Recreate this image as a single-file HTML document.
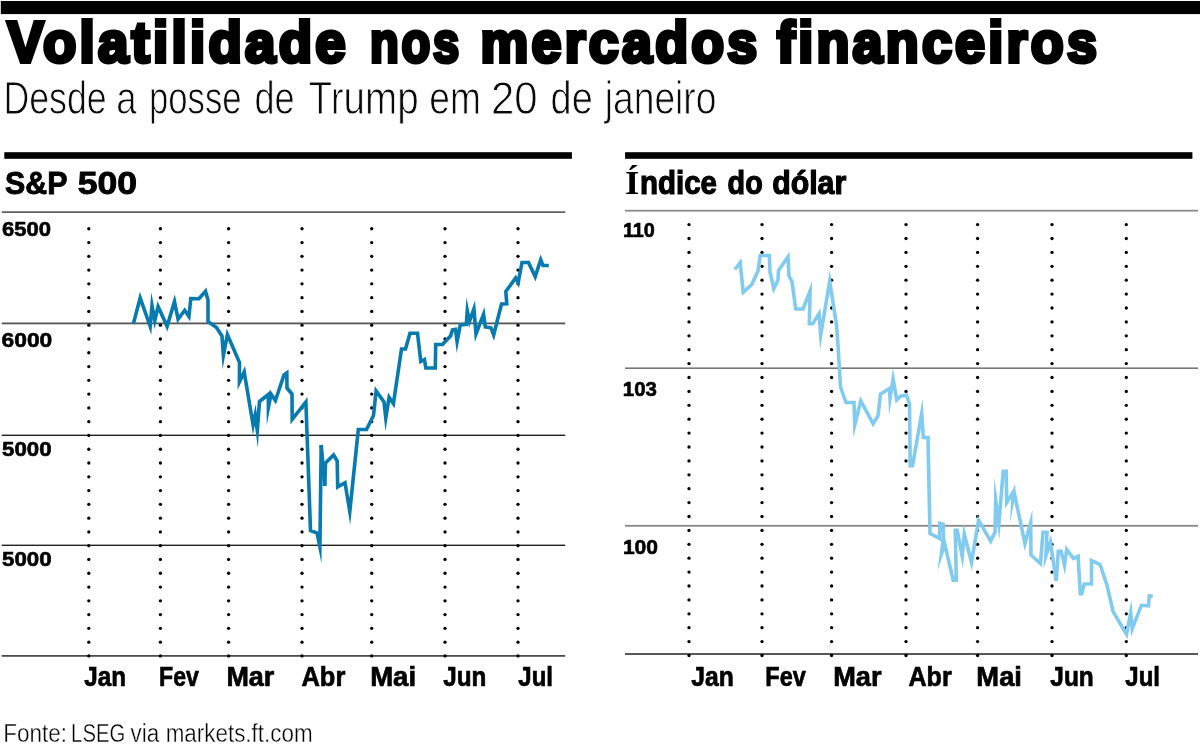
<!DOCTYPE html>
<html lang="pt"><head><meta charset="utf-8"><title>Volatilidade nos mercados financeiros</title>
<style>
html,body{margin:0;padding:0;background:#fff;}
body{width:1200px;height:751px;overflow:hidden;font-family:"Liberation Sans",sans-serif;}
svg{display:block;font-family:"Liberation Sans",sans-serif;will-change:transform;}
</style></head><body>
<svg width="1200" height="751" viewBox="0 0 1200 751">
<rect width="1200" height="751" fill="#fff"/>
<g>
<rect x="0.8" y="1" width="1199.2" height="13.1" fill="#000"/>
<rect x="4.3" y="152.2" width="567.6" height="6.6" fill="#000"/>
<rect x="625.1" y="152.2" width="567.3" height="6.6" fill="#000"/>
<rect x="1.7" y="211.40" width="563.5" height="1.4" fill="#3a3a3a"/>
<rect x="1.7" y="322.50" width="563.5" height="1.8" fill="#555"/>
<rect x="1.7" y="434.60" width="563.5" height="1.4" fill="#222"/>
<rect x="1.7" y="544.60" width="563.5" height="1.4" fill="#222"/>
<rect x="1.7" y="655.05" width="563.5" height="1.7" fill="#444"/>
<rect x="625" y="209.85" width="573" height="1.7" fill="#888"/>
<rect x="625" y="367.40" width="573" height="1.6" fill="#777"/>
<rect x="625" y="524.90" width="573" height="1.8" fill="#888"/>
<rect x="625" y="653.25" width="573" height="1.5" fill="#222"/>
<g fill="#000"><circle cx="88.8" cy="228.75" r="1.65"/><circle cx="88.8" cy="242.53" r="1.65"/><circle cx="88.8" cy="256.31" r="1.65"/><circle cx="88.8" cy="270.09" r="1.65"/><circle cx="88.8" cy="283.87" r="1.65"/><circle cx="88.8" cy="297.65" r="1.65"/><circle cx="88.8" cy="311.43" r="1.65"/><circle cx="88.8" cy="325.21" r="1.65"/><circle cx="88.8" cy="338.99" r="1.65"/><circle cx="88.8" cy="352.77" r="1.65"/><circle cx="88.8" cy="366.55" r="1.65"/><circle cx="88.8" cy="380.33" r="1.65"/><circle cx="88.8" cy="394.11" r="1.65"/><circle cx="88.8" cy="407.89" r="1.65"/><circle cx="88.8" cy="421.67" r="1.65"/><circle cx="88.8" cy="435.45" r="1.65"/><circle cx="88.8" cy="449.23" r="1.65"/><circle cx="88.8" cy="463.01" r="1.65"/><circle cx="88.8" cy="476.79" r="1.65"/><circle cx="88.8" cy="490.57" r="1.65"/><circle cx="88.8" cy="504.35" r="1.65"/><circle cx="88.8" cy="518.13" r="1.65"/><circle cx="88.8" cy="531.91" r="1.65"/><circle cx="88.8" cy="545.69" r="1.65"/><circle cx="88.8" cy="559.47" r="1.65"/><circle cx="88.8" cy="573.25" r="1.65"/><circle cx="88.8" cy="587.03" r="1.65"/><circle cx="88.8" cy="600.81" r="1.65"/><circle cx="88.8" cy="614.59" r="1.65"/><circle cx="88.8" cy="628.37" r="1.65"/><circle cx="88.8" cy="642.15" r="1.65"/><circle cx="88.8" cy="655.93" r="1.65"/><circle cx="160.4" cy="228.75" r="1.65"/><circle cx="160.4" cy="242.53" r="1.65"/><circle cx="160.4" cy="256.31" r="1.65"/><circle cx="160.4" cy="270.09" r="1.65"/><circle cx="160.4" cy="283.87" r="1.65"/><circle cx="160.4" cy="297.65" r="1.65"/><circle cx="160.4" cy="311.43" r="1.65"/><circle cx="160.4" cy="325.21" r="1.65"/><circle cx="160.4" cy="338.99" r="1.65"/><circle cx="160.4" cy="352.77" r="1.65"/><circle cx="160.4" cy="366.55" r="1.65"/><circle cx="160.4" cy="380.33" r="1.65"/><circle cx="160.4" cy="394.11" r="1.65"/><circle cx="160.4" cy="407.89" r="1.65"/><circle cx="160.4" cy="421.67" r="1.65"/><circle cx="160.4" cy="435.45" r="1.65"/><circle cx="160.4" cy="449.23" r="1.65"/><circle cx="160.4" cy="463.01" r="1.65"/><circle cx="160.4" cy="476.79" r="1.65"/><circle cx="160.4" cy="490.57" r="1.65"/><circle cx="160.4" cy="504.35" r="1.65"/><circle cx="160.4" cy="518.13" r="1.65"/><circle cx="160.4" cy="531.91" r="1.65"/><circle cx="160.4" cy="545.69" r="1.65"/><circle cx="160.4" cy="559.47" r="1.65"/><circle cx="160.4" cy="573.25" r="1.65"/><circle cx="160.4" cy="587.03" r="1.65"/><circle cx="160.4" cy="600.81" r="1.65"/><circle cx="160.4" cy="614.59" r="1.65"/><circle cx="160.4" cy="628.37" r="1.65"/><circle cx="160.4" cy="642.15" r="1.65"/><circle cx="160.4" cy="655.93" r="1.65"/><circle cx="228.6" cy="228.75" r="1.65"/><circle cx="228.6" cy="242.53" r="1.65"/><circle cx="228.6" cy="256.31" r="1.65"/><circle cx="228.6" cy="270.09" r="1.65"/><circle cx="228.6" cy="283.87" r="1.65"/><circle cx="228.6" cy="297.65" r="1.65"/><circle cx="228.6" cy="311.43" r="1.65"/><circle cx="228.6" cy="325.21" r="1.65"/><circle cx="228.6" cy="338.99" r="1.65"/><circle cx="228.6" cy="352.77" r="1.65"/><circle cx="228.6" cy="366.55" r="1.65"/><circle cx="228.6" cy="380.33" r="1.65"/><circle cx="228.6" cy="394.11" r="1.65"/><circle cx="228.6" cy="407.89" r="1.65"/><circle cx="228.6" cy="421.67" r="1.65"/><circle cx="228.6" cy="435.45" r="1.65"/><circle cx="228.6" cy="449.23" r="1.65"/><circle cx="228.6" cy="463.01" r="1.65"/><circle cx="228.6" cy="476.79" r="1.65"/><circle cx="228.6" cy="490.57" r="1.65"/><circle cx="228.6" cy="504.35" r="1.65"/><circle cx="228.6" cy="518.13" r="1.65"/><circle cx="228.6" cy="531.91" r="1.65"/><circle cx="228.6" cy="545.69" r="1.65"/><circle cx="228.6" cy="559.47" r="1.65"/><circle cx="228.6" cy="573.25" r="1.65"/><circle cx="228.6" cy="587.03" r="1.65"/><circle cx="228.6" cy="600.81" r="1.65"/><circle cx="228.6" cy="614.59" r="1.65"/><circle cx="228.6" cy="628.37" r="1.65"/><circle cx="228.6" cy="642.15" r="1.65"/><circle cx="228.6" cy="655.93" r="1.65"/><circle cx="302" cy="228.75" r="1.65"/><circle cx="302" cy="242.53" r="1.65"/><circle cx="302" cy="256.31" r="1.65"/><circle cx="302" cy="270.09" r="1.65"/><circle cx="302" cy="283.87" r="1.65"/><circle cx="302" cy="297.65" r="1.65"/><circle cx="302" cy="311.43" r="1.65"/><circle cx="302" cy="325.21" r="1.65"/><circle cx="302" cy="338.99" r="1.65"/><circle cx="302" cy="352.77" r="1.65"/><circle cx="302" cy="366.55" r="1.65"/><circle cx="302" cy="380.33" r="1.65"/><circle cx="302" cy="394.11" r="1.65"/><circle cx="302" cy="407.89" r="1.65"/><circle cx="302" cy="421.67" r="1.65"/><circle cx="302" cy="435.45" r="1.65"/><circle cx="302" cy="449.23" r="1.65"/><circle cx="302" cy="463.01" r="1.65"/><circle cx="302" cy="476.79" r="1.65"/><circle cx="302" cy="490.57" r="1.65"/><circle cx="302" cy="504.35" r="1.65"/><circle cx="302" cy="518.13" r="1.65"/><circle cx="302" cy="531.91" r="1.65"/><circle cx="302" cy="545.69" r="1.65"/><circle cx="302" cy="559.47" r="1.65"/><circle cx="302" cy="573.25" r="1.65"/><circle cx="302" cy="587.03" r="1.65"/><circle cx="302" cy="600.81" r="1.65"/><circle cx="302" cy="614.59" r="1.65"/><circle cx="302" cy="628.37" r="1.65"/><circle cx="302" cy="642.15" r="1.65"/><circle cx="302" cy="655.93" r="1.65"/><circle cx="371.7" cy="228.75" r="1.65"/><circle cx="371.7" cy="242.53" r="1.65"/><circle cx="371.7" cy="256.31" r="1.65"/><circle cx="371.7" cy="270.09" r="1.65"/><circle cx="371.7" cy="283.87" r="1.65"/><circle cx="371.7" cy="297.65" r="1.65"/><circle cx="371.7" cy="311.43" r="1.65"/><circle cx="371.7" cy="325.21" r="1.65"/><circle cx="371.7" cy="338.99" r="1.65"/><circle cx="371.7" cy="352.77" r="1.65"/><circle cx="371.7" cy="366.55" r="1.65"/><circle cx="371.7" cy="380.33" r="1.65"/><circle cx="371.7" cy="394.11" r="1.65"/><circle cx="371.7" cy="407.89" r="1.65"/><circle cx="371.7" cy="421.67" r="1.65"/><circle cx="371.7" cy="435.45" r="1.65"/><circle cx="371.7" cy="449.23" r="1.65"/><circle cx="371.7" cy="463.01" r="1.65"/><circle cx="371.7" cy="476.79" r="1.65"/><circle cx="371.7" cy="490.57" r="1.65"/><circle cx="371.7" cy="504.35" r="1.65"/><circle cx="371.7" cy="518.13" r="1.65"/><circle cx="371.7" cy="531.91" r="1.65"/><circle cx="371.7" cy="545.69" r="1.65"/><circle cx="371.7" cy="559.47" r="1.65"/><circle cx="371.7" cy="573.25" r="1.65"/><circle cx="371.7" cy="587.03" r="1.65"/><circle cx="371.7" cy="600.81" r="1.65"/><circle cx="371.7" cy="614.59" r="1.65"/><circle cx="371.7" cy="628.37" r="1.65"/><circle cx="371.7" cy="642.15" r="1.65"/><circle cx="371.7" cy="655.93" r="1.65"/><circle cx="445" cy="228.75" r="1.65"/><circle cx="445" cy="242.53" r="1.65"/><circle cx="445" cy="256.31" r="1.65"/><circle cx="445" cy="270.09" r="1.65"/><circle cx="445" cy="283.87" r="1.65"/><circle cx="445" cy="297.65" r="1.65"/><circle cx="445" cy="311.43" r="1.65"/><circle cx="445" cy="325.21" r="1.65"/><circle cx="445" cy="338.99" r="1.65"/><circle cx="445" cy="352.77" r="1.65"/><circle cx="445" cy="366.55" r="1.65"/><circle cx="445" cy="380.33" r="1.65"/><circle cx="445" cy="394.11" r="1.65"/><circle cx="445" cy="407.89" r="1.65"/><circle cx="445" cy="421.67" r="1.65"/><circle cx="445" cy="435.45" r="1.65"/><circle cx="445" cy="449.23" r="1.65"/><circle cx="445" cy="463.01" r="1.65"/><circle cx="445" cy="476.79" r="1.65"/><circle cx="445" cy="490.57" r="1.65"/><circle cx="445" cy="504.35" r="1.65"/><circle cx="445" cy="518.13" r="1.65"/><circle cx="445" cy="531.91" r="1.65"/><circle cx="445" cy="545.69" r="1.65"/><circle cx="445" cy="559.47" r="1.65"/><circle cx="445" cy="573.25" r="1.65"/><circle cx="445" cy="587.03" r="1.65"/><circle cx="445" cy="600.81" r="1.65"/><circle cx="445" cy="614.59" r="1.65"/><circle cx="445" cy="628.37" r="1.65"/><circle cx="445" cy="642.15" r="1.65"/><circle cx="445" cy="655.93" r="1.65"/><circle cx="518" cy="228.75" r="1.65"/><circle cx="518" cy="242.53" r="1.65"/><circle cx="518" cy="256.31" r="1.65"/><circle cx="518" cy="270.09" r="1.65"/><circle cx="518" cy="283.87" r="1.65"/><circle cx="518" cy="297.65" r="1.65"/><circle cx="518" cy="311.43" r="1.65"/><circle cx="518" cy="325.21" r="1.65"/><circle cx="518" cy="338.99" r="1.65"/><circle cx="518" cy="352.77" r="1.65"/><circle cx="518" cy="366.55" r="1.65"/><circle cx="518" cy="380.33" r="1.65"/><circle cx="518" cy="394.11" r="1.65"/><circle cx="518" cy="407.89" r="1.65"/><circle cx="518" cy="421.67" r="1.65"/><circle cx="518" cy="435.45" r="1.65"/><circle cx="518" cy="449.23" r="1.65"/><circle cx="518" cy="463.01" r="1.65"/><circle cx="518" cy="476.79" r="1.65"/><circle cx="518" cy="490.57" r="1.65"/><circle cx="518" cy="504.35" r="1.65"/><circle cx="518" cy="518.13" r="1.65"/><circle cx="518" cy="531.91" r="1.65"/><circle cx="518" cy="545.69" r="1.65"/><circle cx="518" cy="559.47" r="1.65"/><circle cx="518" cy="573.25" r="1.65"/><circle cx="518" cy="587.03" r="1.65"/><circle cx="518" cy="600.81" r="1.65"/><circle cx="518" cy="614.59" r="1.65"/><circle cx="518" cy="628.37" r="1.65"/><circle cx="518" cy="642.15" r="1.65"/><circle cx="518" cy="655.93" r="1.65"/></g>
<g fill="#000"><circle cx="689" cy="224.60" r="1.65"/><circle cx="689" cy="238.50" r="1.65"/><circle cx="689" cy="252.40" r="1.65"/><circle cx="689" cy="266.30" r="1.65"/><circle cx="689" cy="280.20" r="1.65"/><circle cx="689" cy="294.10" r="1.65"/><circle cx="689" cy="308.00" r="1.65"/><circle cx="689" cy="321.90" r="1.65"/><circle cx="689" cy="335.80" r="1.65"/><circle cx="689" cy="349.70" r="1.65"/><circle cx="689" cy="363.60" r="1.65"/><circle cx="689" cy="377.50" r="1.65"/><circle cx="689" cy="391.40" r="1.65"/><circle cx="689" cy="405.30" r="1.65"/><circle cx="689" cy="419.20" r="1.65"/><circle cx="689" cy="433.10" r="1.65"/><circle cx="689" cy="447.00" r="1.65"/><circle cx="689" cy="460.90" r="1.65"/><circle cx="689" cy="474.80" r="1.65"/><circle cx="689" cy="488.70" r="1.65"/><circle cx="689" cy="502.60" r="1.65"/><circle cx="689" cy="516.50" r="1.65"/><circle cx="689" cy="530.40" r="1.65"/><circle cx="689" cy="544.30" r="1.65"/><circle cx="689" cy="558.20" r="1.65"/><circle cx="689" cy="572.10" r="1.65"/><circle cx="689" cy="586.00" r="1.65"/><circle cx="689" cy="599.90" r="1.65"/><circle cx="689" cy="613.80" r="1.65"/><circle cx="689" cy="627.70" r="1.65"/><circle cx="689" cy="641.60" r="1.65"/><circle cx="689" cy="655.50" r="1.65"/><circle cx="762" cy="224.60" r="1.65"/><circle cx="762" cy="238.50" r="1.65"/><circle cx="762" cy="252.40" r="1.65"/><circle cx="762" cy="266.30" r="1.65"/><circle cx="762" cy="280.20" r="1.65"/><circle cx="762" cy="294.10" r="1.65"/><circle cx="762" cy="308.00" r="1.65"/><circle cx="762" cy="321.90" r="1.65"/><circle cx="762" cy="335.80" r="1.65"/><circle cx="762" cy="349.70" r="1.65"/><circle cx="762" cy="363.60" r="1.65"/><circle cx="762" cy="377.50" r="1.65"/><circle cx="762" cy="391.40" r="1.65"/><circle cx="762" cy="405.30" r="1.65"/><circle cx="762" cy="419.20" r="1.65"/><circle cx="762" cy="433.10" r="1.65"/><circle cx="762" cy="447.00" r="1.65"/><circle cx="762" cy="460.90" r="1.65"/><circle cx="762" cy="474.80" r="1.65"/><circle cx="762" cy="488.70" r="1.65"/><circle cx="762" cy="502.60" r="1.65"/><circle cx="762" cy="516.50" r="1.65"/><circle cx="762" cy="530.40" r="1.65"/><circle cx="762" cy="544.30" r="1.65"/><circle cx="762" cy="558.20" r="1.65"/><circle cx="762" cy="572.10" r="1.65"/><circle cx="762" cy="586.00" r="1.65"/><circle cx="762" cy="599.90" r="1.65"/><circle cx="762" cy="613.80" r="1.65"/><circle cx="762" cy="627.70" r="1.65"/><circle cx="762" cy="641.60" r="1.65"/><circle cx="762" cy="655.50" r="1.65"/><circle cx="831.6" cy="224.60" r="1.65"/><circle cx="831.6" cy="238.50" r="1.65"/><circle cx="831.6" cy="252.40" r="1.65"/><circle cx="831.6" cy="266.30" r="1.65"/><circle cx="831.6" cy="280.20" r="1.65"/><circle cx="831.6" cy="294.10" r="1.65"/><circle cx="831.6" cy="308.00" r="1.65"/><circle cx="831.6" cy="321.90" r="1.65"/><circle cx="831.6" cy="335.80" r="1.65"/><circle cx="831.6" cy="349.70" r="1.65"/><circle cx="831.6" cy="363.60" r="1.65"/><circle cx="831.6" cy="377.50" r="1.65"/><circle cx="831.6" cy="391.40" r="1.65"/><circle cx="831.6" cy="405.30" r="1.65"/><circle cx="831.6" cy="419.20" r="1.65"/><circle cx="831.6" cy="433.10" r="1.65"/><circle cx="831.6" cy="447.00" r="1.65"/><circle cx="831.6" cy="460.90" r="1.65"/><circle cx="831.6" cy="474.80" r="1.65"/><circle cx="831.6" cy="488.70" r="1.65"/><circle cx="831.6" cy="502.60" r="1.65"/><circle cx="831.6" cy="516.50" r="1.65"/><circle cx="831.6" cy="530.40" r="1.65"/><circle cx="831.6" cy="544.30" r="1.65"/><circle cx="831.6" cy="558.20" r="1.65"/><circle cx="831.6" cy="572.10" r="1.65"/><circle cx="831.6" cy="586.00" r="1.65"/><circle cx="831.6" cy="599.90" r="1.65"/><circle cx="831.6" cy="613.80" r="1.65"/><circle cx="831.6" cy="627.70" r="1.65"/><circle cx="831.6" cy="641.60" r="1.65"/><circle cx="831.6" cy="655.50" r="1.65"/><circle cx="906" cy="224.60" r="1.65"/><circle cx="906" cy="238.50" r="1.65"/><circle cx="906" cy="252.40" r="1.65"/><circle cx="906" cy="266.30" r="1.65"/><circle cx="906" cy="280.20" r="1.65"/><circle cx="906" cy="294.10" r="1.65"/><circle cx="906" cy="308.00" r="1.65"/><circle cx="906" cy="321.90" r="1.65"/><circle cx="906" cy="335.80" r="1.65"/><circle cx="906" cy="349.70" r="1.65"/><circle cx="906" cy="363.60" r="1.65"/><circle cx="906" cy="377.50" r="1.65"/><circle cx="906" cy="391.40" r="1.65"/><circle cx="906" cy="405.30" r="1.65"/><circle cx="906" cy="419.20" r="1.65"/><circle cx="906" cy="433.10" r="1.65"/><circle cx="906" cy="447.00" r="1.65"/><circle cx="906" cy="460.90" r="1.65"/><circle cx="906" cy="474.80" r="1.65"/><circle cx="906" cy="488.70" r="1.65"/><circle cx="906" cy="502.60" r="1.65"/><circle cx="906" cy="516.50" r="1.65"/><circle cx="906" cy="530.40" r="1.65"/><circle cx="906" cy="544.30" r="1.65"/><circle cx="906" cy="558.20" r="1.65"/><circle cx="906" cy="572.10" r="1.65"/><circle cx="906" cy="586.00" r="1.65"/><circle cx="906" cy="599.90" r="1.65"/><circle cx="906" cy="613.80" r="1.65"/><circle cx="906" cy="627.70" r="1.65"/><circle cx="906" cy="641.60" r="1.65"/><circle cx="906" cy="655.50" r="1.65"/><circle cx="977.6" cy="224.60" r="1.65"/><circle cx="977.6" cy="238.50" r="1.65"/><circle cx="977.6" cy="252.40" r="1.65"/><circle cx="977.6" cy="266.30" r="1.65"/><circle cx="977.6" cy="280.20" r="1.65"/><circle cx="977.6" cy="294.10" r="1.65"/><circle cx="977.6" cy="308.00" r="1.65"/><circle cx="977.6" cy="321.90" r="1.65"/><circle cx="977.6" cy="335.80" r="1.65"/><circle cx="977.6" cy="349.70" r="1.65"/><circle cx="977.6" cy="363.60" r="1.65"/><circle cx="977.6" cy="377.50" r="1.65"/><circle cx="977.6" cy="391.40" r="1.65"/><circle cx="977.6" cy="405.30" r="1.65"/><circle cx="977.6" cy="419.20" r="1.65"/><circle cx="977.6" cy="433.10" r="1.65"/><circle cx="977.6" cy="447.00" r="1.65"/><circle cx="977.6" cy="460.90" r="1.65"/><circle cx="977.6" cy="474.80" r="1.65"/><circle cx="977.6" cy="488.70" r="1.65"/><circle cx="977.6" cy="502.60" r="1.65"/><circle cx="977.6" cy="516.50" r="1.65"/><circle cx="977.6" cy="530.40" r="1.65"/><circle cx="977.6" cy="544.30" r="1.65"/><circle cx="977.6" cy="558.20" r="1.65"/><circle cx="977.6" cy="572.10" r="1.65"/><circle cx="977.6" cy="586.00" r="1.65"/><circle cx="977.6" cy="599.90" r="1.65"/><circle cx="977.6" cy="613.80" r="1.65"/><circle cx="977.6" cy="627.70" r="1.65"/><circle cx="977.6" cy="641.60" r="1.65"/><circle cx="977.6" cy="655.50" r="1.65"/><circle cx="1052" cy="224.60" r="1.65"/><circle cx="1052" cy="238.50" r="1.65"/><circle cx="1052" cy="252.40" r="1.65"/><circle cx="1052" cy="266.30" r="1.65"/><circle cx="1052" cy="280.20" r="1.65"/><circle cx="1052" cy="294.10" r="1.65"/><circle cx="1052" cy="308.00" r="1.65"/><circle cx="1052" cy="321.90" r="1.65"/><circle cx="1052" cy="335.80" r="1.65"/><circle cx="1052" cy="349.70" r="1.65"/><circle cx="1052" cy="363.60" r="1.65"/><circle cx="1052" cy="377.50" r="1.65"/><circle cx="1052" cy="391.40" r="1.65"/><circle cx="1052" cy="405.30" r="1.65"/><circle cx="1052" cy="419.20" r="1.65"/><circle cx="1052" cy="433.10" r="1.65"/><circle cx="1052" cy="447.00" r="1.65"/><circle cx="1052" cy="460.90" r="1.65"/><circle cx="1052" cy="474.80" r="1.65"/><circle cx="1052" cy="488.70" r="1.65"/><circle cx="1052" cy="502.60" r="1.65"/><circle cx="1052" cy="516.50" r="1.65"/><circle cx="1052" cy="530.40" r="1.65"/><circle cx="1052" cy="544.30" r="1.65"/><circle cx="1052" cy="558.20" r="1.65"/><circle cx="1052" cy="572.10" r="1.65"/><circle cx="1052" cy="586.00" r="1.65"/><circle cx="1052" cy="599.90" r="1.65"/><circle cx="1052" cy="613.80" r="1.65"/><circle cx="1052" cy="627.70" r="1.65"/><circle cx="1052" cy="641.60" r="1.65"/><circle cx="1052" cy="655.50" r="1.65"/><circle cx="1126.3" cy="224.60" r="1.65"/><circle cx="1126.3" cy="238.50" r="1.65"/><circle cx="1126.3" cy="252.40" r="1.65"/><circle cx="1126.3" cy="266.30" r="1.65"/><circle cx="1126.3" cy="280.20" r="1.65"/><circle cx="1126.3" cy="294.10" r="1.65"/><circle cx="1126.3" cy="308.00" r="1.65"/><circle cx="1126.3" cy="321.90" r="1.65"/><circle cx="1126.3" cy="335.80" r="1.65"/><circle cx="1126.3" cy="349.70" r="1.65"/><circle cx="1126.3" cy="363.60" r="1.65"/><circle cx="1126.3" cy="377.50" r="1.65"/><circle cx="1126.3" cy="391.40" r="1.65"/><circle cx="1126.3" cy="405.30" r="1.65"/><circle cx="1126.3" cy="419.20" r="1.65"/><circle cx="1126.3" cy="433.10" r="1.65"/><circle cx="1126.3" cy="447.00" r="1.65"/><circle cx="1126.3" cy="460.90" r="1.65"/><circle cx="1126.3" cy="474.80" r="1.65"/><circle cx="1126.3" cy="488.70" r="1.65"/><circle cx="1126.3" cy="502.60" r="1.65"/><circle cx="1126.3" cy="516.50" r="1.65"/><circle cx="1126.3" cy="530.40" r="1.65"/><circle cx="1126.3" cy="544.30" r="1.65"/><circle cx="1126.3" cy="558.20" r="1.65"/><circle cx="1126.3" cy="572.10" r="1.65"/><circle cx="1126.3" cy="586.00" r="1.65"/><circle cx="1126.3" cy="599.90" r="1.65"/><circle cx="1126.3" cy="613.80" r="1.65"/><circle cx="1126.3" cy="627.70" r="1.65"/><circle cx="1126.3" cy="641.60" r="1.65"/><circle cx="1126.3" cy="655.50" r="1.65"/></g>
<g fill="none" stroke="#077ab0" stroke-width="3.6" stroke-linejoin="miter" stroke-miterlimit="14">
<polyline points="133.3,324.0 140.2,297.9 150.2,326.5 152.0,305.6 154.8,320.5 158.1,306.5 167.1,326.3 174.5,301.7 178.1,319.2 184.7,310.3 188.9,316.5 190.8,298.6 199.0,298.7 205.5,291.2 208.0,300.0 208.0,321.5 216.5,327.5 222.0,336.0 223.4,355.4 227.4,334.5 239.5,362.5 239.4,382.0 244.2,371.9 253.1,425.0 255.2,414.9 257.3,430.5 259.5,401.5 268.3,394.5 268.4,407.4 271.0,394.1 275.4,400.5 284.0,375.0 286.8,373.0 287.0,388.0 292.0,394.0 292.2,419.4 305.9,402.0 310.5,530.5 317.0,533.0 319.9,547.0 321.2,445.0"/>
<polyline points="321.2,445.0 324.8,486.0"/>
<polyline points="324.8,486.0 325.5,463.0 333.6,454.9 337.2,461.0 337.7,486.9 345.0,482.8 349.8,511.6 358.3,429.5 366.5,429.5 373.5,415.5 376.1,390.9 384.0,402.0 385.8,418.0 389.1,397.3 393.4,403.7 401.5,349.0 405.5,349.0 410.0,333.3 417.5,333.3 420.8,361.5 424.5,359.5 425.8,368.0 435.3,368.0 435.7,344.5 442.5,344.5 450.5,336.0 452.5,329.8 455.5,329.3 457.1,341.7 460.3,325.0 466.3,324.3 467.3,310.6 469.5,321.3 473.9,309.0 476.0,334.0 483.6,314.2 485.3,327.0 491.0,327.8 493.7,335.0 501.5,304.0 506.8,303.8 505.8,291.5 515.7,277.9 518.2,282.6 522.0,262.5 528.5,262.5 535.2,276.6 540.7,259.8 543.0,265.5 548.8,265.5"/>
</g>
<g fill="none" stroke="#82cbf0" stroke-width="3.6" stroke-linejoin="miter" stroke-miterlimit="14">
<polyline points="734.8,269.5 740.2,262.6 743.2,292.3 751.8,284.5 758.0,271.0 760.3,255.5 769.3,255.5 770.0,272.0 773.8,288.6 778.0,280.0 778.5,270.5 788.0,256.8 789.0,276.0 792.0,281.5 795.7,309.0 803.0,309.0 810.1,291.0 809.3,323.8 812.8,323.8 819.1,313.6 820.7,335.0 829.7,281.3 836.5,325.0 838.0,345.0 840.5,387.0 846.0,402.5 854.0,402.5 854.8,424.8 860.8,400.9 873.1,423.7 878.0,416.0 880.5,394.0 889.5,388.5 890.0,398.2 893.1,378.9 896.7,399.9 901.0,396.0 906.5,395.2 909.5,404.0 910.2,465.8 912.5,465.8 921.7,413.5 923.3,437.5 928.0,437.5 930.0,533.5 939.5,538.5 939.8,523.3 943.2,524.3 943.5,537.5 941.4,554.0 944.8,544.3 953.2,580.2 956.3,580.2 955.3,530.2 957.2,530.2 962.2,556.3 964.3,534.0 971.5,562.3 978.6,520.2 990.7,541.1 995.0,532.0 995.7,500.1 998.9,523.5 1003.2,471.3 1006.2,471.3 1006.7,502.6 1013.3,492.0 1012.9,499.7 1014.3,493.0 1024.9,543.4 1030.7,522.7 1031.0,555.0 1040.5,563.5 1043.0,532.3 1047.0,532.3 1045.9,555.8 1050.4,542.3 1056.2,581.0"/>
<polyline points="1056.2,581.0 1058.3,551.3 1061.2,551.3 1064.5,565.3 1066.7,549.5 1073.5,558.5 1078.1,556.3 1080.3,593.8 1081.7,593.8 1084.3,584.0 1091.5,584.0 1091.5,560.5 1100.0,564.5 1107.0,585.0 1113.0,611.3 1126.5,634.3 1130.7,612.5 1132.2,628.8 1141.4,605.3 1148.4,605.8 1149.3,596.0 1152.8,596.2"/>
</g>
<text x="7.28" y="61.95" font-size="58.0" font-weight="bold" fill="#000" textLength="341.66" lengthAdjust="spacingAndGlyphs" stroke="#000" stroke-width="4.1" letter-spacing="3.5">Volatilidade</text>
<text x="369.95" y="61.95" font-size="58.0" font-weight="bold" fill="#000" textLength="92.19" lengthAdjust="spacingAndGlyphs" stroke="#000" stroke-width="4.1" letter-spacing="3.5">nos</text>
<text x="480.44" y="61.95" font-size="58.0" font-weight="bold" fill="#000" textLength="280.05" lengthAdjust="spacingAndGlyphs" stroke="#000" stroke-width="4.1" letter-spacing="3.5">mercados</text>
<text x="777.01" y="61.95" font-size="58.0" font-weight="bold" fill="#000" textLength="323.1" lengthAdjust="spacingAndGlyphs" stroke="#000" stroke-width="4.1" letter-spacing="3.5">financeiros</text>
<text x="3.39" y="113.6" font-size="45.8" font-weight="normal" fill="#0a0a0a" textLength="103.23" lengthAdjust="spacingAndGlyphs" stroke="#fff" stroke-width="0.9">Desde</text>
<text x="116.31" y="113.6" font-size="45.8" font-weight="normal" fill="#0a0a0a" textLength="20.32" lengthAdjust="spacingAndGlyphs" stroke="#fff" stroke-width="0.9">a</text>
<text x="149.0" y="113.6" font-size="45.8" font-weight="normal" fill="#0a0a0a" textLength="92.56" lengthAdjust="spacingAndGlyphs" stroke="#fff" stroke-width="0.9">posse</text>
<text x="254.41" y="113.6" font-size="45.8" font-weight="normal" fill="#0a0a0a" textLength="40.19" lengthAdjust="spacingAndGlyphs" stroke="#fff" stroke-width="0.9">de</text>
<text x="308.62" y="113.6" font-size="45.8" font-weight="normal" fill="#0a0a0a" textLength="109.98" lengthAdjust="spacingAndGlyphs" stroke="#fff" stroke-width="0.9">Trump</text>
<text x="429.32" y="113.6" font-size="45.8" font-weight="normal" fill="#0a0a0a" textLength="51.5" lengthAdjust="spacingAndGlyphs" stroke="#fff" stroke-width="0.9">em</text>
<text x="491.04" y="113.6" font-size="45.8" font-weight="normal" fill="#0a0a0a" textLength="46.67" lengthAdjust="spacingAndGlyphs" stroke="#fff" stroke-width="0.9">20</text>
<text x="550.59" y="113.6" font-size="45.8" font-weight="normal" fill="#0a0a0a" textLength="42.11" lengthAdjust="spacingAndGlyphs" stroke="#fff" stroke-width="0.9">de</text>
<text x="604.74" y="113.6" font-size="45.8" font-weight="normal" fill="#0a0a0a" textLength="111.71" lengthAdjust="spacingAndGlyphs" stroke="#fff" stroke-width="0.9">janeiro</text>
<text x="5.01" y="193.9" font-size="32.2" font-weight="bold" fill="#000" textLength="62.53" lengthAdjust="spacingAndGlyphs" stroke="#000" stroke-width="0.9">S&amp;P</text>
<text x="77.69" y="193.9" font-size="32.2" font-weight="bold" fill="#000" textLength="59.44" lengthAdjust="spacingAndGlyphs" stroke="#000" stroke-width="0.9">500</text>
<text x="625.03" y="194.3" font-size="34.2" font-weight="bold" fill="#000" textLength="14.25" lengthAdjust="spacingAndGlyphs" font-family="Liberation Serif">Í</text>
<text x="640.02" y="193.9" font-size="32.9" font-weight="bold" fill="#000" textLength="76.94" lengthAdjust="spacingAndGlyphs" stroke="#000" stroke-width="1.2">ndice</text>
<text x="727.62" y="193.9" font-size="32.9" font-weight="bold" fill="#000" textLength="35.08" lengthAdjust="spacingAndGlyphs" stroke="#000" stroke-width="1.2">do</text>
<text x="772.19" y="193.9" font-size="32.9" font-weight="bold" fill="#000" textLength="74.07" lengthAdjust="spacingAndGlyphs" stroke="#000" stroke-width="1.2">dólar</text>
<text x="1.92" y="236.4" font-size="20.6" font-weight="bold" fill="#000" textLength="49.11" lengthAdjust="spacingAndGlyphs" stroke="#000" stroke-width="0.6">6500</text>
<text x="1.56" y="346.8" font-size="20.6" font-weight="bold" fill="#000" textLength="50.74" lengthAdjust="spacingAndGlyphs" stroke="#000" stroke-width="0.6">6000</text>
<text x="2.01" y="455.8" font-size="20.6" font-weight="bold" fill="#000" textLength="49.56" lengthAdjust="spacingAndGlyphs" stroke="#000" stroke-width="0.6">5000</text>
<text x="2.01" y="565.8" font-size="20.6" font-weight="bold" fill="#000" textLength="49.56" lengthAdjust="spacingAndGlyphs" stroke="#000" stroke-width="0.6">5000</text>
<text x="622.96" y="236.7" font-size="20.6" font-weight="bold" fill="#000" textLength="31.92" lengthAdjust="spacingAndGlyphs" stroke="#000" stroke-width="0.6">110</text>
<text x="622.84" y="395.5" font-size="20.6" font-weight="bold" fill="#000" textLength="34.08" lengthAdjust="spacingAndGlyphs" stroke="#000" stroke-width="0.6">103</text>
<text x="622.92" y="553.8" font-size="20.6" font-weight="bold" fill="#000" textLength="35.13" lengthAdjust="spacingAndGlyphs" stroke="#000" stroke-width="0.6">100</text>
<text x="84.28" y="685.8" font-size="27.0" font-weight="bold" fill="#000" textLength="41.75" lengthAdjust="spacingAndGlyphs" stroke="#000" stroke-width="0.7">Jan</text>
<text x="159.07" y="685.8" font-size="27.0" font-weight="bold" fill="#000" textLength="39.74" lengthAdjust="spacingAndGlyphs" stroke="#000" stroke-width="0.7">Fev</text>
<text x="226.41" y="685.8" font-size="27.0" font-weight="bold" fill="#000" textLength="47.89" lengthAdjust="spacingAndGlyphs" stroke="#000" stroke-width="0.7">Mar</text>
<text x="301.48" y="685.8" font-size="27.0" font-weight="bold" fill="#000" textLength="43.85" lengthAdjust="spacingAndGlyphs" stroke="#000" stroke-width="0.7">Abr</text>
<text x="370.16" y="685.8" font-size="27.0" font-weight="bold" fill="#000" textLength="45.9" lengthAdjust="spacingAndGlyphs" stroke="#000" stroke-width="0.7">Mai</text>
<text x="443.29" y="685.8" font-size="27.0" font-weight="bold" fill="#000" textLength="43.16" lengthAdjust="spacingAndGlyphs" stroke="#000" stroke-width="0.7">Jun</text>
<text x="518.29" y="685.8" font-size="27.0" font-weight="bold" fill="#000" textLength="34.67" lengthAdjust="spacingAndGlyphs" stroke="#000" stroke-width="0.7">Jul</text>
<text x="691.29" y="685.8" font-size="27.0" font-weight="bold" fill="#000" textLength="42.5" lengthAdjust="spacingAndGlyphs" stroke="#000" stroke-width="0.7">Jan</text>
<text x="765.33" y="685.8" font-size="27.0" font-weight="bold" fill="#000" textLength="40.51" lengthAdjust="spacingAndGlyphs" stroke="#000" stroke-width="0.7">Fev</text>
<text x="833.16" y="685.8" font-size="27.0" font-weight="bold" fill="#000" textLength="48.31" lengthAdjust="spacingAndGlyphs" stroke="#000" stroke-width="0.7">Mar</text>
<text x="908.51" y="685.8" font-size="27.0" font-weight="bold" fill="#000" textLength="43.15" lengthAdjust="spacingAndGlyphs" stroke="#000" stroke-width="0.7">Abr</text>
<text x="976.39" y="685.8" font-size="27.0" font-weight="bold" fill="#000" textLength="45.54" lengthAdjust="spacingAndGlyphs" stroke="#000" stroke-width="0.7">Mai</text>
<text x="1050.29" y="685.8" font-size="27.0" font-weight="bold" fill="#000" textLength="43.5" lengthAdjust="spacingAndGlyphs" stroke="#000" stroke-width="0.7">Jun</text>
<text x="1125.29" y="685.8" font-size="27.0" font-weight="bold" fill="#000" textLength="34.67" lengthAdjust="spacingAndGlyphs" stroke="#000" stroke-width="0.7">Jul</text>
<text x="3.19" y="742.1" font-size="26.0" font-weight="normal" fill="#000" textLength="63.76" lengthAdjust="spacingAndGlyphs" stroke="#fff" stroke-width="0.4">Fonte:</text>
<text x="71.1" y="742.1" font-size="26.0" font-weight="normal" fill="#000" textLength="54.17" lengthAdjust="spacingAndGlyphs" stroke="#fff" stroke-width="0.4">LSEG</text>
<text x="130.46" y="742.1" font-size="26.0" font-weight="normal" fill="#000" textLength="28.78" lengthAdjust="spacingAndGlyphs" stroke="#fff" stroke-width="0.4">via</text>
<text x="165.71" y="742.1" font-size="26.0" font-weight="normal" fill="#000" textLength="146.9" lengthAdjust="spacingAndGlyphs" stroke="#fff" stroke-width="0.4">markets.ft.com</text>
</g>
</svg>
</body></html>
